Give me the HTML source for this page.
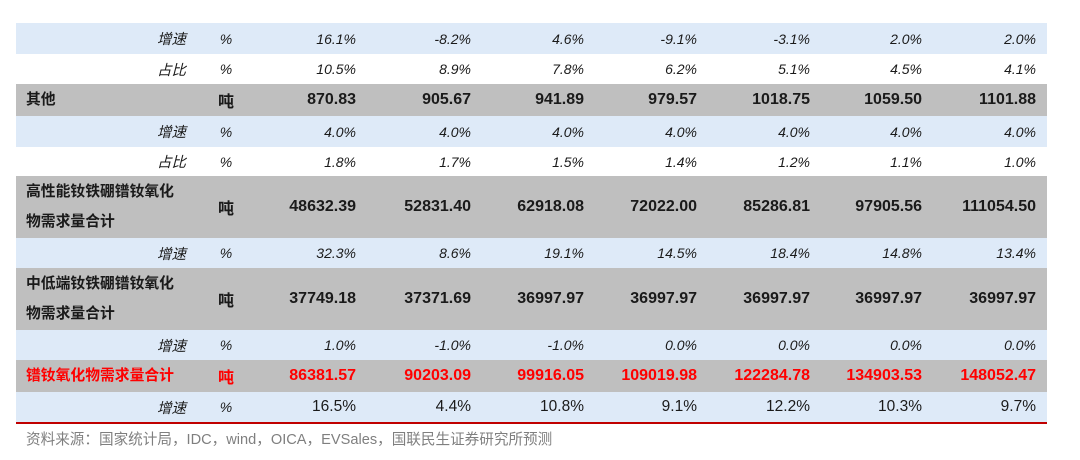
<!DOCTYPE html>
<html><head><meta charset="utf-8"><style>
body{margin:0;width:1080px;height:460px;background:#fff;position:relative;overflow:hidden;font-family:"Liberation Sans","Noto Sans CJK SC",sans-serif;color:#1a1a1a}
.row{position:absolute;left:16px;width:1031px}
.blue{background:#deeaf8}.gray{background:#bfbfbf}.white{background:#fff}
.c{position:absolute;top:0;height:100%;display:flex;align-items:center;font-size:14px;white-space:nowrap}
.lab{left:0;width:170px;justify-content:flex-end;font-size:14.5px}
.blab{left:10px;font-weight:bold;line-height:30px;font-size:14.8px}
.unit{left:200px;width:20px;justify-content:center}
.v{justify-content:flex-end;width:120px}
.it{font-style:italic}
.b{font-weight:bold;font-size:16px}
.n{font-size:15.5px}
.red{color:#ff0000}
#src{position:absolute;left:26px;top:428px;font-size:14.6px;color:#7f7f7f}
#line{position:absolute;left:16px;top:422px;width:1031px;height:2px;background:#c00000}
</style></head><body>
<div id="t"></div>
<div id="line"></div>
<div id="src">资料来源：国家统计局，IDC，wind，OICA，EVSales，国联民生证券研究所预测</div>
<script>
const rows=[
 {t:23,h:31,bg:'blue',lab:'增速',u:'%',kind:'it',vals:['16.1%','-8.2%','4.6%','-9.1%','-3.1%','2.0%','2.0%']},
 {t:54,h:30,bg:'white',lab:'占比',u:'%',kind:'it',vals:['10.5%','8.9%','7.8%','6.2%','5.1%','4.5%','4.1%']},
 {t:84,h:32,bg:'gray',blab:'其他',u:'吨',kind:'b',vals:['870.83','905.67','941.89','979.57','1018.75','1059.50','1101.88']},
 {t:116,h:31,bg:'blue',lab:'增速',u:'%',kind:'it',vals:['4.0%','4.0%','4.0%','4.0%','4.0%','4.0%','4.0%']},
 {t:147,h:29,bg:'white',lab:'占比',u:'%',kind:'it',vals:['1.8%','1.7%','1.5%','1.4%','1.2%','1.1%','1.0%']},
 {t:176,h:62,bg:'gray',blab:'高性能钕铁硼镨钕氧化<br>物需求量合计',u:'吨',kind:'b',vals:['48632.39','52831.40','62918.08','72022.00','85286.81','97905.56','111054.50']},
 {t:238,h:30,bg:'blue',lab:'增速',u:'%',kind:'it',vals:['32.3%','8.6%','19.1%','14.5%','18.4%','14.8%','13.4%']},
 {t:268,h:62,bg:'gray',blab:'中低端钕铁硼镨钕氧化<br>物需求量合计',u:'吨',kind:'b',vals:['37749.18','37371.69','36997.97','36997.97','36997.97','36997.97','36997.97']},
 {t:330,h:30,bg:'blue',lab:'增速',u:'%',kind:'it',vals:['1.0%','-1.0%','-1.0%','0.0%','0.0%','0.0%','0.0%']},
 {t:360,h:32,bg:'gray',blab:'镨钕氧化物需求量合计',u:'吨',kind:'b red',red:true,vals:['86381.57','90203.09','99916.05','109019.98','122284.78','134903.53','148052.47']},
 {t:392,h:30,bg:'blue',lab:'增速',u:'%',kind:'n',vals:['16.5%','4.4%','10.8%','9.1%','12.2%','10.3%','9.7%']}
];
const colRight=[340,455,568,681,794,906,1020];
const t=document.getElementById('t');
rows.forEach((r,i)=>{
 const d=document.createElement('div');
 d.className='row '+r.bg;d.style.top=r.t+'px';d.style.height=r.h+'px';
 
 
 let h='';
 if(r.lab)h+=`<div class="c lab it">${r.lab}</div>`;
 else h+=`<div class="c blab${r.red?' red':''}">${r.blab}</div>`;
 h+=`<div class="c unit ${r.lab?'it':'b'}${r.red?' red':''}">${r.u}</div>`;
 r.vals.forEach((v,j)=>{h+=`<div class="c v ${r.kind}" style="left:${colRight[j]-120}px">${v}</div>`;});
 d.innerHTML=h;t.appendChild(d);
});
</script>
</body></html>
